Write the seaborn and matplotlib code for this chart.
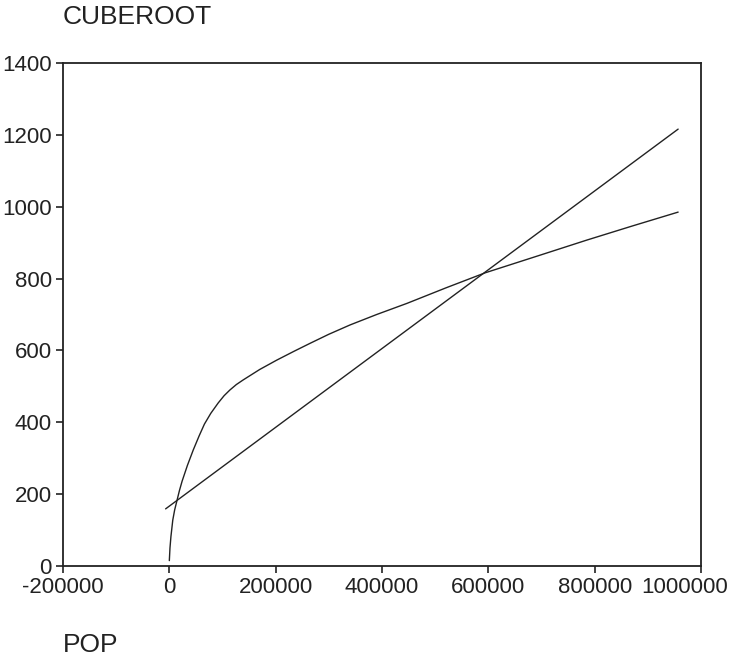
import matplotlib
matplotlib.use("Agg")
import matplotlib.pyplot as plt
import matplotlib.transforms as mtransforms
import seaborn as sns

# values
pop = [0, 1200, 3000, 6500, 10000, 14000, 19000, 24000, 34000, 45000,
       56000, 66000, 78000, 92000, 103000, 114000, 126000, 139000, 170000,
       202000, 235000, 265000, 300000, 340000, 390000, 447000, 520000,
       594000, 697000, 785000, 870000, 957000]
cuberoot = [15, 50, 82, 128, 156, 180, 210, 236, 280, 323,
            362, 395, 425, 454, 474, 490, 505, 518, 547,
            573, 598, 620, 645, 671, 700, 731, 774,
            816, 865, 907, 946, 985]

# straight fitted line (two ends)
fit_pop = [-7000, 957000]
fit_cuberoot = [159, 1216]

x_ticks = [-200000, 0, 200000, 400000, 600000, 800000, 1000000]
y_ticks = [0, 200, 400, 600, 800, 1000, 1200, 1400]

sns.set_style("ticks")
plt.rcParams['font.family'] = ['Liberation Sans', 'DejaVu Sans']

ink = "#222222"
fig = plt.figure(figsize=(7.34, 6.57), dpi=100)
ax = fig.add_axes([63 / 734, 1 - 566 / 657, 638 / 734, 503 / 657])

sns.lineplot(x=pop, y=cuberoot, ax=ax, color=ink, linewidth=1.0, sort=False)
sns.lineplot(x=fit_pop, y=fit_cuberoot, ax=ax, color=ink, linewidth=1.0, sort=False)

ax.set_xlim(-200000, 1000000)
ax.set_ylim(0, 1400)
ax.set_xticks(x_ticks)
ax.set_xticklabels([str(v) for v in x_ticks])
ax.set_yticks(y_ticks)
ax.set_yticklabels([str(v) for v in y_ticks])
ax.tick_params(axis="both", labelsize=16, colors=ink, length=5, width=1.2, pad=3)
for s in ax.spines.values():
    s.set_visible(True)
    s.set_color(ink)
    s.set_linewidth(1.3)

# keep the last x label inside the picture
last = ax.get_xticklabels()[-1]
last.set_transform(last.get_transform() +
                   mtransforms.ScaledTranslation(-0.16, 0, fig.dpi_scale_trans))

ax.set_xlabel("")
ax.set_ylabel("")
fig.text(63 / 734, 1 - 17 / 657, "CUBEROOT", fontsize=19, color=ink, va="center", ha="left")
fig.text(63 / 734, 1 - 645 / 657, "POP", fontsize=19, color=ink, va="center", ha="left")

fig.savefig("out.png", dpi=100)
